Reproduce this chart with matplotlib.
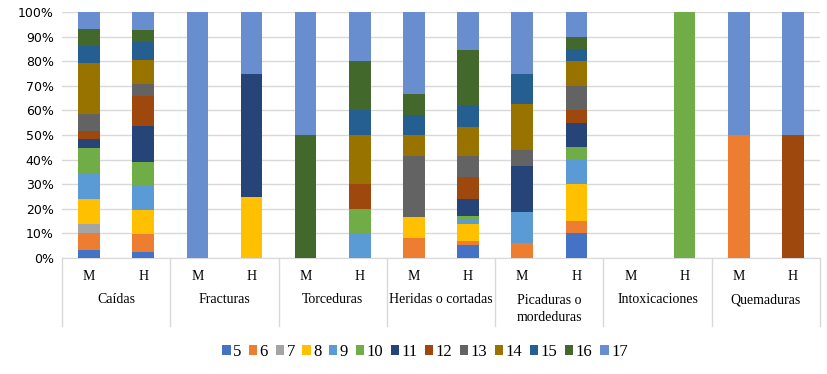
import matplotlib
matplotlib.use("Agg")
import matplotlib.pyplot as plt
from matplotlib.patches import Patch
import numpy as np

categories = ["Caídas", "Fracturas", "Torceduras", "Heridas o cortadas",
              "Picaduras o\nmordeduras", "Intoxicaciones", "Quemaduras"]
sexes = ["M", "H"]
series = ["5", "6", "7", "8", "9", "10", "11", "12", "13", "14", "15", "16", "17"]

# counts per bar: Caidas M/H, Fracturas M/H, Torceduras M/H, Heridas M/H,
# Picaduras M/H, Intoxicaciones M/H, Quemaduras M/H
s5 = [1, 1, 0, 0, 0, 0, 0, 3, 0, 2, 0, 0, 0, 0]
s6 = [2, 3, 0, 0, 0, 0, 1, 1, 1, 1, 0, 0, 1, 0]
s7 = [1, 0, 0, 0, 0, 0, 0, 0, 0, 0, 0, 0, 0, 0]
s8 = [3, 4, 0, 1, 0, 0, 1, 4, 0, 3, 0, 0, 0, 0]
s9 = [3, 4, 0, 0, 0, 1, 0, 1, 2, 2, 0, 0, 0, 0]
s10 = [3, 4, 0, 0, 0, 1, 0, 1, 0, 1, 0, 1, 0, 0]
s11 = [1, 6, 0, 2, 0, 0, 0, 4, 3, 2, 0, 0, 0, 0]
s12 = [1, 5, 0, 0, 0, 1, 0, 5, 0, 1, 0, 0, 0, 1]
s13 = [2, 2, 0, 0, 0, 0, 3, 5, 1, 2, 0, 0, 0, 0]
s14 = [6, 4, 0, 0, 0, 2, 1, 7, 3, 2, 0, 0, 0, 0]
s15 = [2, 3, 0, 0, 0, 1, 1, 5, 2, 1, 0, 0, 0, 0]
s16 = [2, 2, 0, 0, 1, 2, 1, 13, 0, 1, 0, 0, 0, 0]
s17 = [2, 3, 1, 1, 1, 2, 4, 9, 4, 2, 0, 0, 1, 1]

colors = ["#4472C4", "#ED7D31", "#A5A5A5", "#FFC000", "#5B9BD5", "#70AD47",
          "#264478", "#9E480E", "#636363", "#997300", "#255E91", "#43682B",
          "#698ED0"]

data = np.array([s5, s6, s7, s8, s9, s10, s11, s12, s13, s14, s15, s16, s17], dtype=float)
totals = data.sum(axis=0)
pct = np.divide(data, totals, out=np.zeros_like(data), where=totals > 0) * 100

fig = plt.figure(figsize=(8.28, 3.74), dpi=100)
ax = fig.add_axes([62 / 828, 116 / 374, 758 / 828, 246 / 374])

x = []
for i in range(len(categories)):
    x += [i + 0.25, i + 0.75]
x = np.array(x)

bottom = np.zeros(len(x))
for k in range(len(series)):
    ax.bar(x, pct[k], 0.2, bottom=bottom, color=colors[k], zorder=3)
    bottom += pct[k]

ax.set_xlim(0, len(categories))
ax.set_ylim(0, 100)
ax.set_yticks(range(0, 101, 10))
ax.set_yticklabels([f"{v}%" for v in range(0, 101, 10)], fontsize=9,
                   family="DejaVu Sans")
ax.yaxis.grid(True, color="#D9D9D9", linewidth=1, zorder=0)
ax.tick_params(axis="y", length=0, pad=6)
ax.set_xticks([])
for s in ["top", "right", "left"]:
    ax.spines[s].set_visible(False)
ax.spines["bottom"].set_color("#D9D9D9")

for i in range(len(categories) + 1):
    ax.plot([i, i], [0, -27.5], color="#D9D9D9", lw=1, clip_on=False)

serif = "Liberation Serif"
for i, cat in enumerate(categories):
    for j, sx in enumerate(sexes):
        ax.text(i + 0.25 + 0.5 * j, -7.5, sx, ha="center", va="center",
                fontsize=10, family=serif)
    ax.text(i + 0.5, -14.5 if "\n" in cat else -17, cat, ha="center",
            va="top" if "\n" in cat else "center", fontsize=10,
            family=serif, linespacing=1.4)

handles = [Patch(facecolor=c) for c in colors]
fig.legend(handles, series, loc="center", bbox_to_anchor=(425 / 828, 22 / 374),
           ncol=len(series), frameon=False, prop={"family": serif, "size": 12},
           handlelength=0.5, handleheight=0.5, handletextpad=0.15,
           columnspacing=0.45, borderpad=0)

fig.savefig("out.png", dpi=100)
